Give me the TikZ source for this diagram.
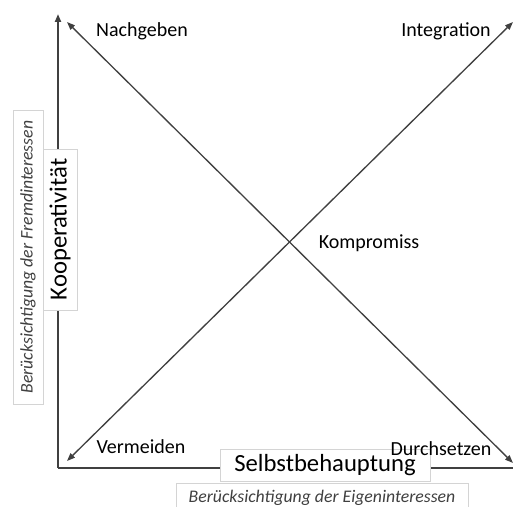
\documentclass[tikz,border=0pt]{standalone}
\usepackage{fontspec}
\setmainfont{Carlito}
\usetikzlibrary{arrows.meta}
\definecolor{linegray}{HTML}{404040}
\definecolor{boxgray}{HTML}{D4D4D4}
\tikzset{
  axis/.style={draw=linegray, line width=1.5pt},
  diag/.style={draw=linegray, line width=1pt},
  corner/.style={font=\fontsize{15}{18}\selectfont},
  mainbox/.style={draw=boxgray, fill=white, font=\fontsize{18.5}{22}\selectfont, inner sep=0pt},
  subbox/.style={draw=boxgray, fill=white, text=linegray, font=\itshape\fontsize{13.3}{16}\selectfont, inner sep=0pt}
}
\begin{document}
\begin{tikzpicture}[x=0.75pt, y=-0.75pt, >={Triangle[length=6pt,width=4.5pt]}]
  \useasboundingbox (0,0) rectangle (513,506);
  % axes
  \coordinate (origin) at (58,468);
  \coordinate (ytop) at (58,14);
  \coordinate (xend) at (524,468);
  \draw[axis, ->] (origin) -- (ytop);
  \draw[axis, ->] (origin) -- (xend);
  % diagonals
  \coordinate (nw) at (67,22);
  \coordinate (se) at (513,463);
  \coordinate (sw) at (67,461);
  \coordinate (ne) at (513,22);
  \draw[diag, <->] (nw) -- (se);
  \draw[diag, <->] (sw) -- (ne);
  % axis labels
  \node[subbox, rotate=90, minimum width=220.5pt, minimum height=22.5pt] (fremd) at (28,257) {Berücksichtigung der Fremdinteressen};
  \node[mainbox, rotate=90, minimum width=120.75pt, minimum height=25.5pt] (koop) at (60,229.5) {Kooperativität};
  \node[mainbox, minimum width=157.5pt, minimum height=24pt] (selbst) at (325,465) {Selbstbehauptung};
  \node[subbox, anchor=north, minimum width=219pt, minimum height=22pt] (eigen) at (322,483) {Berücksichtigung der Eigeninteressen};
  % strategies
  \node[corner] (nachgeben) at (142,31) {Nachgeben};
  \node[corner] (integration) at (446,31) {Integration};
  \node[corner] (kompromiss) at (369,243) {Kompromiss};
  \node[corner] (vermeiden) at (141,447) {Vermeiden};
  \node[corner] (durchsetzen) at (441,449) {Durchsetzen};
\end{tikzpicture}
\end{document}
